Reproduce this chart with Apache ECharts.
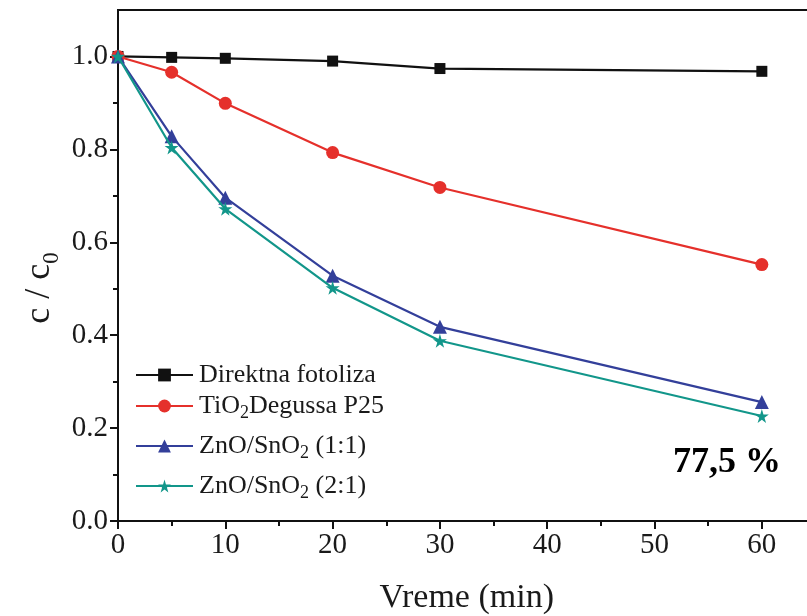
<!DOCTYPE html>
<html>
<head>
<meta charset="utf-8">
<script src="https://cdn.jsdelivr.net/npm/echarts@6/dist/echarts.min.js"></script>
<style>html,body{margin:0;padding:0;background:#fff;}#c{width:807px;height:616px;}</style>
</head>
<body>
<div id="c"></div>
<script>
const times = [0, 5, 10, 20, 30, 60];
const direktna = [1.0, 0.998, 0.996, 0.990, 0.974, 0.968];
const tio2 = [1.0, 0.966, 0.899, 0.793, 0.718, 0.552];
const zno11 = [1.0, 0.828, 0.696, 0.528, 0.418, 0.256];
const zno21 = [1.0, 0.804, 0.672, 0.502, 0.388, 0.226];
const seriesNames = ['Direktna fotoliza', 'TiO2 Degussa P25', 'ZnO/SnO2 (1:1)', 'ZnO/SnO2 (2:1)'];
const xMajorTicks = [0, 10, 20, 30, 40, 50, 60];
const xMinorTicks = [5, 15, 25, 35, 45, 55];
const yMajorTicks = [0, 0.2, 0.4, 0.6, 0.8, 1.0];
const yMinorTicks = [0.1, 0.3, 0.5, 0.7, 0.9];

const FONT = '"Liberation Serif", "DejaVu Serif", serif';
const TXT = '#1a1a1a';
const colors = ['#111111', '#e5302b', '#333f9a', '#12968a'];
const STAR = 'path://M50,0 L61,35 L98,35 L68,57 L79,91 L50,70 L21,91 L32,57 L2,35 L39,35 Z';
const symbols = ['rect', 'circle', 'triangle', STAR];
const symSizes = [11, 13, 14, 14];
const values = [direktna, tio2, zno11, zno21];

const legendLabels = {
  'Direktna fotoliza': 'Direktna fotoliza',
  'TiO2 Degussa P25': 'TiO{sub|2}Degussa P25',
  'ZnO/SnO2 (1:1)': 'ZnO/SnO{sub|2} (1:1)',
  'ZnO/SnO2 (2:1)': 'ZnO/SnO{sub|2} (2:1)'
};
const richSub = {
  sub: { fontSize: 18, fontFamily: FONT, color: TXT, verticalAlign: 'bottom', lineHeight: 32 }
};
const legendTops = [362, 390, 430, 470];

const chart = echarts.init(document.getElementById('c'), null, { renderer: 'canvas' });

const series = seriesNames.map((n, i) => ({
  name: n,
  type: 'line',
  xAxisIndex: 0,
  yAxisIndex: 0,
  data: times.map((t, k) => [t, values[i][k]]),
  symbol: symbols[i],
  symbolSize: symSizes[i],
  showAllSymbol: true,
  lineStyle: { color: colors[i], width: 2.2 },
  itemStyle: { color: colors[i] },
  animation: false,
  z: 2 + i
}));

const legends = seriesNames.map((n, i) => ({
  data: [n],
  left: 135,
  top: legendTops[i],
  orient: 'vertical',
  itemWidth: 57,
  itemHeight: 16,
  itemGap: 0,
  padding: 0,
  selectedMode: false,
  formatter: (name) => legendLabels[name],
  textStyle: {
    fontFamily: FONT, fontSize: 26, color: TXT, padding: [0, 0, 0, 1],
    lineHeight: 26,
    rich: richSub
  }
}));

const option = {
  animation: false,
  backgroundColor: '#ffffff',
  grid: {
    left: 118, top: 10, width: 697.5, bottom: 95,
    outerBoundsMode: 'none', containLabel: false,
    show: true, borderColor: '#111', borderWidth: 2, backgroundColor: 'transparent'
  },
  legend: legends,
  xAxis: [{
    type: 'value', min: 0, max: 65, interval: 10,
    name: 'Vreme (min)', nameLocation: 'middle', nameGap: 60,
    nameTextStyle: { fontFamily: FONT, fontSize: 34, color: TXT },
    axisLine: { show: true, lineStyle: { color: '#111', width: 2 } },
    axisTick: { show: true, inside: false, length: 8, lineStyle: { color: '#111', width: 2 }, customValues: xMajorTicks },
    axisLabel: { fontFamily: FONT, fontSize: 29, color: TXT, margin: 10, customValues: xMajorTicks },
    splitLine: { show: false }
  }, {
    type: 'value', min: 0, max: 65, interval: 5, position: 'bottom', offset: 0,
    axisLine: { show: false },
    axisTick: { show: true, inside: false, length: 5, lineStyle: { color: '#111', width: 2 }, customValues: xMinorTicks },
    axisLabel: { show: false },
    splitLine: { show: false }
  }],
  yAxis: [{
    type: 'value', min: 0, max: 1.1, interval: 0.2,
    axisLine: { show: true, lineStyle: { color: '#111', width: 2 } },
    axisTick: { show: true, inside: false, length: 8, lineStyle: { color: '#111', width: 2 }, customValues: yMajorTicks },
    axisLabel: { fontFamily: FONT, fontSize: 29, color: TXT, margin: 10, customValues: yMajorTicks,
      formatter: (v) => v.toFixed(1) },
    splitLine: { show: false }
  }, {
    type: 'value', min: 0, max: 1.1, interval: 0.1, position: 'left', offset: 0,
    axisLine: { show: false },
    axisTick: { show: true, inside: false, length: 5, lineStyle: { color: '#111', width: 2 }, customValues: yMinorTicks },
    axisLabel: { show: false },
    splitLine: { show: false }
  }],
  graphic: [{
    type: 'text',
    x: 40, y: 288,
    rotation: Math.PI / 2,
    style: {
      text: 'c / c{sub|0}',
      fontFamily: FONT, fontSize: 36, fill: TXT,
      align: 'center', verticalAlign: 'middle',
      rich: { sub: { fontSize: 23, fontFamily: FONT, fill: TXT, verticalAlign: 'bottom', lineHeight: 46 } }
    }
  }, {
    type: 'text',
    x: 673, y: 463,
    style: {
      text: '77,5 %',
      fontFamily: FONT, fontSize: 36, fontWeight: 'bold', fill: '#000',
      align: 'left', verticalAlign: 'middle'
    }
  }],
  series: series
};
chart.setOption(option);
</script>
</body>
</html>
